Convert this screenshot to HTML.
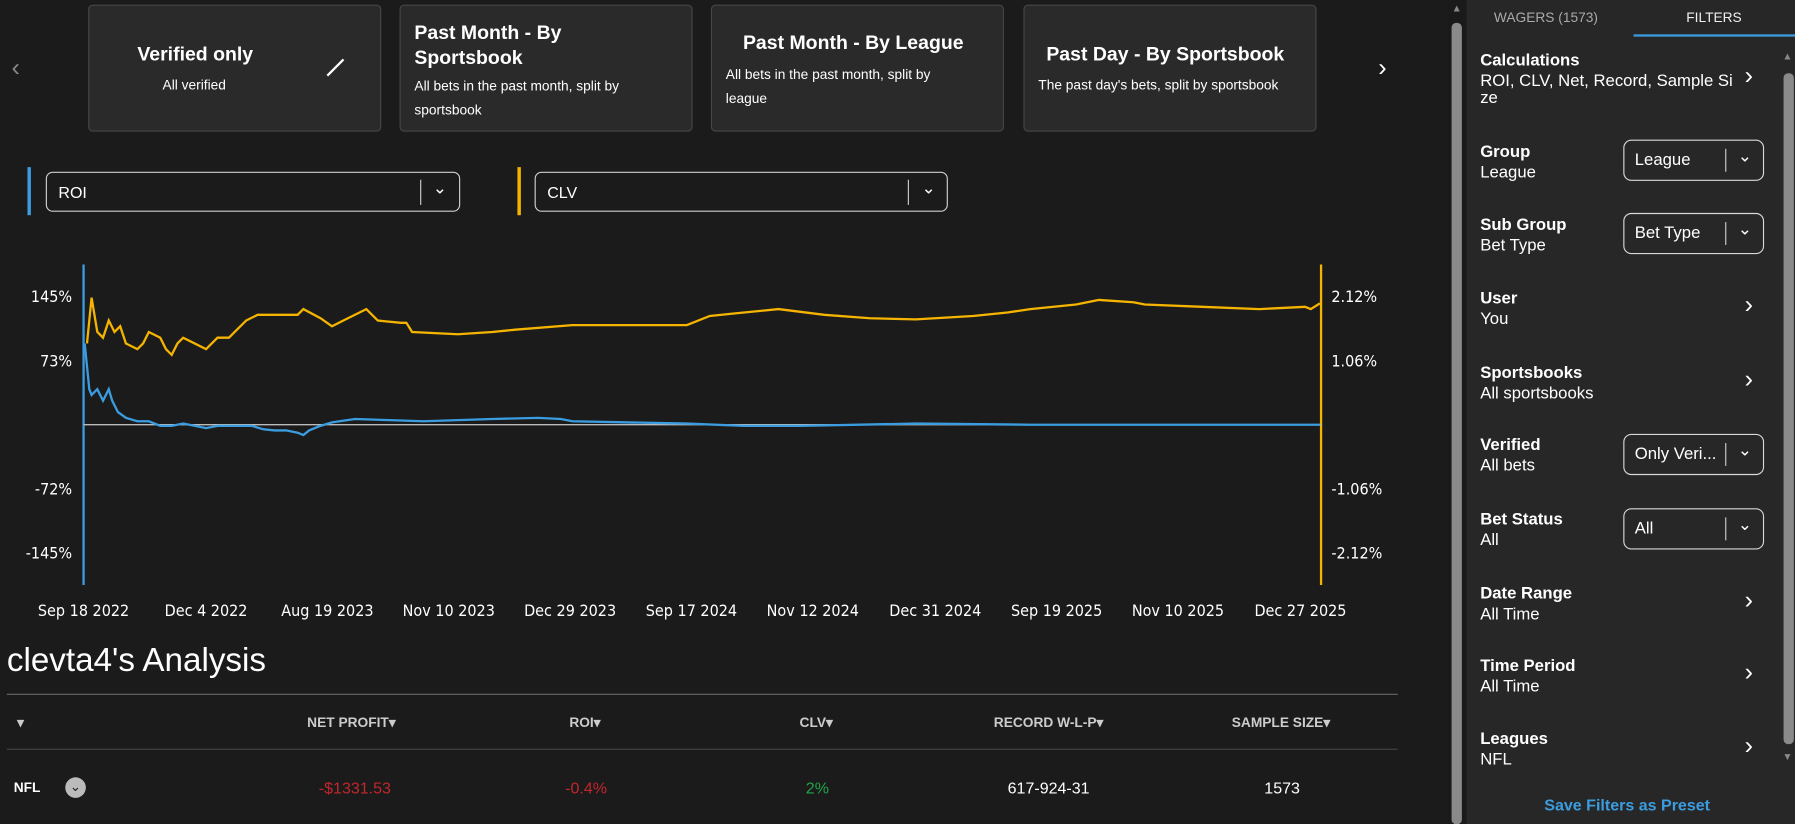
<!DOCTYPE html>
<html><head><meta charset="utf-8"><style>
html,body{margin:0;padding:0;width:1795px;height:824px;overflow:hidden;background:#1b1b1b;}
#w{position:absolute;left:0;top:0;width:1568px;height:720px;transform:scale(1.14477);transform-origin:0 0;background:#1b1b1b;font-family:"Liberation Sans",sans-serif;color:#fff;}
.a{position:absolute;white-space:nowrap;}
.card{position:absolute;top:4px;height:111px;width:256px;background:#2a2a2a;border:1px solid #464646;border-radius:4px;box-sizing:border-box;}
.sel{position:absolute;border:1px solid #d0d0d0;border-radius:6px;box-sizing:border-box;}
.fl{position:absolute;left:1293px;font-size:14.6px;line-height:18px;}
.fs{position:absolute;left:1418px;width:123px;height:36px;border:1px solid #d8d8d8;border-radius:7px;box-sizing:border-box;font-size:14.6px;}
.chev{position:absolute;font-size:22px;color:#fff;}
.th{position:absolute;top:624px;font-size:12px;font-weight:bold;color:#ccc;transform:translateX(-50%);}
.td{position:absolute;top:680px;font-size:14px;transform:translateX(-50%);}
</style></head><body><div id="w">
<div class="a" style="left:10px;top:46px;font-size:22px;color:#888">‹</div>
<div class="a" style="left:1204px;top:46px;font-size:22px;color:#fff">›</div>
<div class="card" style="left:77px"><div class="a" style="left:42px;top:33px;font-size:17px;font-weight:bold">Verified only</div><div class="a" style="left:64px;top:62px;font-size:12px">All verified</div><div class="a" style="left:214px;top:44px;width:2px;height:20px;background:#fff;transform:rotate(45deg)"></div></div>
<div class="card" style="left:349px"><div class="a" style="left:12px;top:13px;font-size:17px;font-weight:bold;line-height:22px">Past Month - By<br>Sportsbook</div><div class="a" style="left:12px;top:60px;font-size:12px;line-height:21px">All bets in the past month, split by<br>sportsbook</div></div>
<div class="card" style="left:621px"><div class="a" style="left:27px;top:23px;font-size:17px;font-weight:bold">Past Month - By League</div><div class="a" style="left:12px;top:50px;font-size:12px;line-height:21px">All bets in the past month, split by<br>league</div></div>
<div class="card" style="left:894px"><div class="a" style="left:19px;top:33px;font-size:17px;font-weight:bold">Past Day - By Sportsbook</div><div class="a" style="left:12px;top:62px;font-size:12px">The past day's bets, split by sportsbook</div></div>

<div class="a" style="left:24px;top:146px;width:3px;height:42px;background:#3b9de0"></div>
<div class="sel" style="left:40px;top:150px;width:362px;height:35px"><div class="a" style="left:10px;top:9px;font-size:14px">ROI</div><div class="a" style="left:326px;top:6px;width:1px;height:22px;background:#ccc"></div><div class="a" style="left:337px;top:4px;font-size:15px">⌄</div></div>
<div class="a" style="left:452px;top:146px;width:3px;height:42px;background:#f5b400"></div>
<div class="sel" style="left:467px;top:150px;width:361px;height:35px"><div class="a" style="left:10px;top:9px;font-size:14px">CLV</div><div class="a" style="left:325px;top:6px;width:1px;height:22px;background:#ccc"></div><div class="a" style="left:337px;top:4px;font-size:15px">⌄</div></div>

<svg class="a" style="left:0;top:0" width="1265" height="560">
<line x1="73" y1="231" x2="73" y2="511" stroke="#3b9de0" stroke-width="2"/>
<line x1="1154" y1="231" x2="1154" y2="511" stroke="#f5b400" stroke-width="2"/>
<line x1="73" y1="371" x2="1154" y2="371" stroke="#bbb" stroke-width="1.2"/>
<g fill="#fff" font-family="DejaVu Sans Condensed, DejaVu Sans, sans-serif" font-size="14">
<text x="63" y="264" text-anchor="end">145%</text><text x="63" y="320" text-anchor="end">73%</text><text x="63" y="432" text-anchor="end">-72%</text><text x="63" y="488" text-anchor="end">-145%</text>
<text x="1163" y="264">2.12%</text><text x="1163" y="320">1.06%</text><text x="1163" y="432">-1.06%</text><text x="1163" y="488">-2.12%</text>
<g text-anchor="middle"><text x="73" y="538">Sep 18 2022</text><text x="180" y="538">Dec 4 2022</text><text x="286" y="538">Aug 19 2023</text><text x="392" y="538">Nov 10 2023</text><text x="498" y="538">Dec 29 2023</text><text x="604" y="538">Sep 17 2024</text><text x="710" y="538">Nov 12 2024</text><text x="817" y="538">Dec 31 2024</text><text x="923" y="538">Sep 19 2025</text><text x="1029" y="538">Nov 10 2025</text><text x="1136" y="538">Dec 27 2025</text></g></g>
<polyline fill="none" stroke="#f5b400" stroke-width="2" points="76,300 80,260 85,290 90,295 95,280 100,290 105,285 110,300 120,305 125,300 130,290 140,295 145,305 150,310 155,300 160,295 170,300 180,305 190,295 200,295 205,290 215,280 225,275 240,275 260,275 265,270 280,278 290,285 300,280 320,270 330,280 350,282 355,282 360,290 400,292 430,290 450,288 500,284 550,284 600,284 620,276 640,274 680,270 720,275 760,278 800,279 850,276 880,273 900,270 940,266 960,262 990,264 1000,266 1050,268 1100,270 1140,268 1145,270 1153,265"/>
<polyline fill="none" stroke="#3b9de0" stroke-width="2" points="74,300 75,310 78,340 80,345 85,340 90,350 95,340 98,350 103,360 110,365 120,368 130,368 140,372 150,372 160,370 180,374 190,372 200,372 220,372 230,375 240,376 250,376 260,378 265,380 270,376 280,372 290,369 310,366 340,367 370,368 400,367 430,366 470,365 490,366 500,368 550,369 600,370 650,372 700,372 800,370 900,371 1000,371 1100,371 1153,371"/>
</svg>

<div class="a" style="left:6px;top:561px;font-size:29px">clevta4's Analysis</div>
<div class="a" style="left:6px;top:606px;width:1215px;height:1px;background:#666"></div>
<div class="th" style="left:18px">▾</div>
<div class="th" style="left:307px">NET PROFIT▾</div><div class="th" style="left:511px">ROI▾</div><div class="th" style="left:713px">CLV▾</div><div class="th" style="left:916px">RECORD W-L-P▾</div><div class="th" style="left:1119px">SAMPLE SIZE▾</div>
<div class="a" style="left:6px;top:654px;width:1215px;height:1px;background:#444"></div>
<div class="a" style="left:12px;top:681px;font-size:12px;font-weight:bold">NFL</div>
<div class="a" style="left:57px;top:679px;width:18px;height:18px;border-radius:50%;background:#bbb;color:#222;font-size:12px;text-align:center;line-height:16px">⌄</div>
<div class="td" style="left:310px;color:#c3262c">-$1331.53</div><div class="td" style="left:512px;color:#c3262c">-0.4%</div><div class="td" style="left:714px;color:#1fa64a">2%</div><div class="td" style="left:916px">617-924-31</div><div class="td" style="left:1120px">1573</div>

<div class="a" style="left:1265px;top:0;width:16px;height:720px;background:#1a1a1a"></div>
<div class="a" style="left:1268px;top:2px;font-size:9px;color:#888">▲</div>
<div class="a" style="left:1268px;top:20px;width:9px;height:700px;background:#8a8a8a;border-radius:4px"></div>
<div class="a" style="left:1281px;top:0;width:287px;height:720px;background:#272727"></div>
<div class="a" style="left:1305px;top:8px;font-size:12px;color:#aaa">WAGERS (1573)</div>
<div class="a" style="left:1473px;top:8px;font-size:12px;color:#eee">FILTERS</div>
<div class="a" style="left:1427px;top:30px;width:141px;height:2px;background:#3b9de0"></div>
<div class="a" style="left:1557px;top:44px;font-size:9px;color:#888">▲</div>
<div class="a" style="left:1558px;top:64px;width:9px;height:586px;background:#8a8a8a;border-radius:4px"></div>
<div class="a" style="left:1557px;top:656px;font-size:9px;color:#888">▼</div>

<div class="fl" style="top:44px"><b>Calculations</b><br>ROI, CLV, Net, Record, Sample Si<br><span style="position:relative;top:-3px">ze</span></div>
<div class="chev" style="left:1524px;top:53px">›</div>
<div class="fl" style="top:124px"><b>Group</b><br>League</div>
<div class="fs" style="top:122px"><div class="a" style="left:9px;top:9px">League</div><div class="a" style="left:88px;top:7px;width:1px;height:20px;background:#ccc"></div><div class="a" style="left:99px;top:4px;font-size:15px">⌄</div></div>
<div class="fl" style="top:188px"><b>Sub Group</b><br>Bet Type</div>
<div class="fs" style="top:186px"><div class="a" style="left:9px;top:9px">Bet Type</div><div class="a" style="left:88px;top:7px;width:1px;height:20px;background:#ccc"></div><div class="a" style="left:99px;top:4px;font-size:15px">⌄</div></div>
<div class="fl" style="top:252px"><b>User</b><br>You</div><div class="chev" style="left:1524px;top:253px">›</div>
<div class="fl" style="top:317px"><b>Sportsbooks</b><br>All sportsbooks</div><div class="chev" style="left:1524px;top:318px">›</div>
<div class="fl" style="top:380px"><b>Verified</b><br>All bets</div>
<div class="fs" style="top:379px"><div class="a" style="left:9px;top:9px">Only Veri...</div><div class="a" style="left:88px;top:7px;width:1px;height:20px;background:#ccc"></div><div class="a" style="left:99px;top:4px;font-size:15px">⌄</div></div>
<div class="fl" style="top:445px"><b>Bet Status</b><br>All</div>
<div class="fs" style="top:444px"><div class="a" style="left:9px;top:9px">All</div><div class="a" style="left:88px;top:7px;width:1px;height:20px;background:#ccc"></div><div class="a" style="left:99px;top:4px;font-size:15px">⌄</div></div>
<div class="fl" style="top:510px"><b>Date Range</b><br>All Time</div><div class="chev" style="left:1524px;top:511px">›</div>
<div class="fl" style="top:573px"><b>Time Period</b><br>All Time</div><div class="chev" style="left:1524px;top:574px">›</div>
<div class="fl" style="top:637px"><b>Leagues</b><br>NFL</div><div class="chev" style="left:1524px;top:638px">›</div>
<div class="a" style="left:1349px;top:695px;font-size:14px;font-weight:bold;color:#3b9de0">Save Filters as Preset</div>
</div></body></html>
